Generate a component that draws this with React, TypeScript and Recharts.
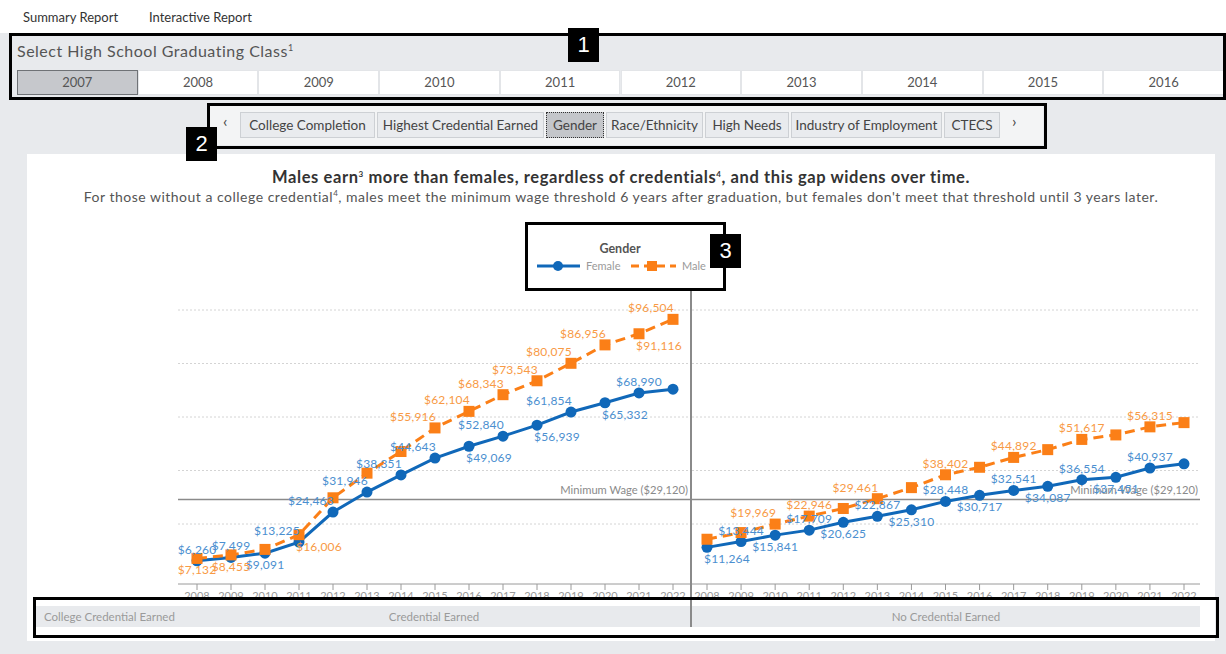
import React from 'react';
import { LineChart, Line, XAxis, YAxis, ReferenceLine, LabelList } from 'recharts';

const years = ['2008', '2009', '2010', '2011', '2012', '2013', '2014', '2015', '2016', '2017', '2018', '2019', '2020', '2021', '2022'];
const classYears = ['2007', '2008', '2009', '2010', '2011', '2012', '2013', '2014', '2015', '2016'];
const topicTabs = ['College Completion', 'Highest Credential Earned', 'Gender', 'Race/Ethnicity', 'High Needs', 'Industry of Employment', 'CTECS'];

// median wages, credential earned
const credFemale = [6260, 7499, 9091, 13225, 24463, 31946, 38351, 44643, 49069, 52840, 56939, 61854, 65332, 68990, 70400];
const credMale = [7132, 8455, 10500, 16006, 29800, 39000, 47100, 55916, 62104, 68343, 73543, 80075, 86956, 91116, 96504];
// median wages, no credential earned
const noCredFemale = [11264, 13444, 15841, 17709, 20625, 22867, 25310, 28448, 30717, 32541, 34087, 36554, 37451, 40937, 42500];
const noCredMale = [14300, 16800, 19969, 22946, 25800, 29461, 33600, 38402, 41200, 44892, 47800, 51617, 53300, 56315, 57900];

const gridValues = [20000, 40000, 60000, 80000, 100000];
const minimumWage = 29120;

// label placement per point: u above, l above-left, d below, r below-right, n hidden
const credFemaleLabels = 'uudlllllrlrlrun';
const credMaleLabels = 'ddnrnnnllllllrl';
const noCredFemaleLabels = 'rududududududun';
const noCredMaleLabels = 'nnlunlnununun' + 'un';

const BLUE = '#1068b9';
const ORANGE = '#fb7f17';
const BLUE_TEXT = '#4b8fd0';
const ORANGE_TEXT = '#f89a45';
const FONT = 'Lato, "Open Sans", sans-serif';

const credData = years.map((year, i) => ({ year, female: credFemale[i], male: credMale[i] }));
const noCredData = years.map((year, i) => ({ year, female: noCredFemale[i], male: noCredMale[i] }));

const makeLabel = (sides: string, color: string) => (props: any) => {
  const { x, y, value, index } = props;
  const side = sides[index];
  if (!side || side === 'n') return null;
  let dx = 0;
  let dy = -7;
  if (side === 'l') dx = -22;
  if (side === 'd') dy = 16;
  if (side === 'r') { dx = 20; dy = 16; }
  return (
    <text key={`l${index}`} x={x + dx} y={y + dy} textAnchor="middle" fontSize={12} letterSpacing={0.2} fill={color} fontFamily={FONT}>
      {'$' + Number(value).toLocaleString('en-US')}
    </text>
  );
};

const squareDot = (p: any) => (
  <rect key={`sq${p.index}`} x={p.cx - 5.5} y={p.cy - 5.5} width={11} height={11} fill={ORANGE} />
);

const minWageLabel = (p: any) => {
  const vb = p.viewBox || {};
  return (
    <text x={vb.x + vb.width - 2} y={vb.y - 6} textAnchor="end" fontSize={11.2} fill="#8a8a8a" fontFamily={FONT}>
      Minimum Wage ($29,120)
    </text>
  );
};

const Panel = ({ data, width, padding, femaleLabels, maleLabels }: any) => (
  <LineChart width={width} height={306} data={data} margin={{ top: 0, right: 0, bottom: 0, left: 0 }}>
    <YAxis hide type="number" domain={[-2430, 103740]} />
    <XAxis
      dataKey="year"
      height={22}
      padding={padding}
      interval={0}
      axisLine={{ stroke: '#9a9a9a' }}
      tickLine={{ stroke: '#9a9a9a' }}
      tickSize={6}
      tick={{ fontSize: 11, fill: '#9a9a9a', fontFamily: FONT }}
    />
    {gridValues.map((v) => (
      <ReferenceLine key={v} y={v} stroke="#d4d4d4" strokeDasharray="2 2" />
    ))}
    <ReferenceLine y={minimumWage} stroke="#8a8a8a" strokeWidth={1.5} label={minWageLabel} />
    <Line dataKey="female" type="linear" stroke={BLUE} strokeWidth={3} dot={{ r: 5.5, fill: BLUE, stroke: BLUE, strokeWidth: 0 }} isAnimationActive={false}>
      <LabelList dataKey="female" content={makeLabel(femaleLabels, BLUE_TEXT)} />
    </Line>
    <Line dataKey="male" type="linear" stroke={ORANGE} strokeWidth={3} strokeDasharray="10 6" dot={squareDot} isAnimationActive={false}>
      <LabelList dataKey="male" content={makeLabel(maleLabels, ORANGE_TEXT)} />
    </Line>
  </LineChart>
);

const NumberTag = ({ n, left, top }: any) => (
  <div style={{ position: 'absolute', left, top, width: 31, height: 34, background: '#000', color: '#fff', fontFamily: 'Arial, sans-serif', fontSize: 22, lineHeight: '34px', textAlign: 'center', zIndex: 6 }}>{n}</div>
);

const Box = ({ left, top, width, height }: any) => (
  <div style={{ position: 'absolute', left, top, width, height, border: '3px solid #000', boxSizing: 'border-box', zIndex: 5, pointerEvents: 'none' }} />
);

const tabWidths = [135, 167, 58, 97, 84, 151, 56];

export default function App() {
  let tabX = 240;
  return (
    <div style={{ position: 'absolute', left: 0, top: 0, width: 1226, height: 654, background: '#e8eaed', fontFamily: FONT, overflow: 'hidden' }}>
      {/* top links */}
      <div style={{ position: 'absolute', left: 0, top: 0, width: 1226, height: 33, background: '#fff' }} />
      <div style={{ position: 'absolute', left: 23, top: 9, fontSize: 13, color: '#333' }}>Summary Report</div>
      <div style={{ position: 'absolute', left: 149, top: 9, fontSize: 13, color: '#333' }}>Interactive Report</div>

      {/* class selector */}
      <div style={{ position: 'absolute', left: 17, top: 41, fontSize: 16, letterSpacing: 0.5, color: '#555' }}>
        Select High School Graduating Class<sup style={{ fontSize: 9 }}>1</sup>
      </div>
      {classYears.map((y, i) => (
        <div key={y} style={{
          position: 'absolute', left: 17 + i * 120.7, top: 70, width: 120.7, height: 25, boxSizing: 'border-box',
          background: i === 0 ? '#c6c8cc' : '#fff', border: i === 0 ? '1px solid #6f7276' : '1px solid #e3e5e8',
          fontSize: 13, color: '#555', textAlign: 'center', lineHeight: '23px',
        }}>{y}</div>
      ))}

      {/* topic tabs */}
      <div style={{ position: 'absolute', left: 210, top: 106, width: 833, height: 39, background: '#f3f4f5' }} />
      <div style={{ position: 'absolute', left: 223, top: 111, fontSize: 16, color: '#444' }}>‹</div>
      {topicTabs.map((t, i) => {
        const x = tabX;
        tabX += tabWidths[i] + 2;
        const sel = t === 'Gender';
        return (
          <div key={t} style={{
            position: 'absolute', left: x, top: 112, width: tabWidths[i], height: 26, boxSizing: 'border-box',
            background: sel ? '#c4c6ca' : '#e9ebee', border: sel ? '1px dotted #333' : '1px solid #cdd0d4',
            fontSize: 13.5, color: '#444', textAlign: 'center', lineHeight: '24px', whiteSpace: 'nowrap',
          }}>{t}</div>
        );
      })}
      <div style={{ position: 'absolute', left: 1012, top: 111, fontSize: 16, color: '#444' }}>›</div>

      {/* white chart panel */}
      <div style={{ position: 'absolute', left: 27, top: 154, width: 1188, height: 487, background: '#fff' }} />
      <div style={{ position: 'absolute', left: 27, top: 167, width: 1188, textAlign: 'center', fontSize: 16.5, letterSpacing: 0.6, fontWeight: 700, color: '#333' }}>
        Males earn<sup style={{ fontSize: 8 }}>3</sup> more than females, regardless of credentials<sup style={{ fontSize: 8 }}>4</sup>, and this gap widens over time.
      </div>
      <div style={{ position: 'absolute', left: 27, top: 188, width: 1188, textAlign: 'center', fontSize: 14, letterSpacing: 0.5, color: '#555' }}>
        For those without a college credential<sup style={{ fontSize: 8 }}>4</sup>, males meet the minimum wage threshold 6 years after graduation, but females don't meet that threshold until 3 years later.
      </div>

      {/* legend */}
      <svg style={{ position: 'absolute', left: 525, top: 222 }} width={200} height={68}>
        <text x={95} y={31} textAnchor="middle" fontSize={12.5} fontWeight={700} fill="#555" fontFamily={FONT}>Gender</text>
        <line x1={12} x2={55} y1={44} y2={44} stroke={BLUE} strokeWidth={3} />
        <circle cx={33} cy={44} r={5} fill={BLUE} />
        <text x={61} y={48} fontSize={11} fill="#9a9a9a" fontFamily={FONT}>Female</text>
        <line x1={106} x2={151} y1={44} y2={44} stroke={ORANGE} strokeWidth={3} strokeDasharray="8 5" />
        <rect x={122} y={39} width={10} height={10} fill={ORANGE} />
        <text x={157} y={48} fontSize={11} fill="#9a9a9a" fontFamily={FONT}>Male</text>
      </svg>

      {/* panels */}
      <div style={{ position: 'absolute', left: 178, top: 300 }}>
        <Panel data={credData} width={512} padding={{ left: 19, right: 17 }} femaleLabels={credFemaleLabels} maleLabels={credMaleLabels} />
      </div>
      <div style={{ position: 'absolute', left: 692, top: 300 }}>
        <Panel data={noCredData} width={508} padding={{ left: 15, right: 16 }} femaleLabels={noCredFemaleLabels} maleLabels={noCredMaleLabels} />
      </div>
      <div style={{ position: 'absolute', left: 690, top: 290, width: 1.5, height: 337, background: '#8a8a8a' }} />

      {/* panel labels */}
      <div style={{ position: 'absolute', left: 35, top: 606, width: 1165, height: 21, background: '#e8eaed' }} />
      <div style={{ position: 'absolute', left: 44, top: 610, fontSize: 11.5, color: '#9a9a9a' }}>College Credential Earned</div>
      <div style={{ position: 'absolute', left: 178, top: 610, width: 512, textAlign: 'center', fontSize: 11.5, color: '#9a9a9a' }}>Credential Earned</div>
      <div style={{ position: 'absolute', left: 692, top: 610, width: 508, textAlign: 'center', fontSize: 11.5, color: '#9a9a9a' }}>No Credential Earned</div>
      <div style={{ position: 'absolute', left: 690, top: 606, width: 1.5, height: 21, background: '#8a8a8a' }} />

      {/* annotation boxes */}
      <Box left={9} top={33} width={1217} height={67} />
      <NumberTag n="1" left={568} top={28} />
      <Box left={207} top={103} width={840} height={46} />
      <NumberTag n="2" left={186} top={127} />
      <Box left={525} top={222} width={201} height={69} />
      <NumberTag n="3" left={710} top={234} />
      <Box left={33} top={597} width={1186} height={41} />
    </div>
  );
}
